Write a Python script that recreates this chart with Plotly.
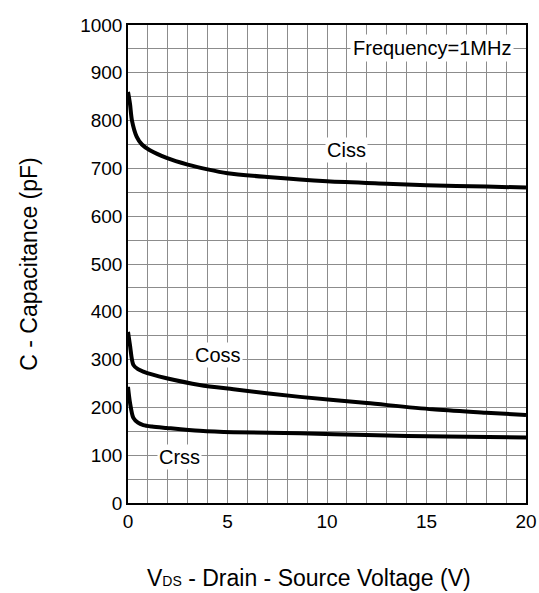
import plotly.graph_objects as go

vds_ciss = [0, 0.1, 0.2, 0.44, 0.7, 1.1, 1.94, 3, 4, 5, 7, 10, 13, 15, 18, 20]
ciss = [860, 835, 800, 766, 750, 738, 722, 708, 698, 690, 682, 673, 668, 665, 662, 660]

vds_coss = [0, 0.1, 0.27, 0.5, 0.77, 1.2, 1.94, 3.6, 5.3, 8.64, 12, 15.3, 18, 20]
coss = [358, 330, 289, 280, 275, 269, 261, 247, 238, 222, 209, 196, 189, 184]

vds_crss = [0, 0.1, 0.27, 0.5, 0.77, 1.2, 1.94, 3.6, 5.3, 8.64, 12, 16, 20]
crss = [243, 210, 178, 168, 163, 160, 157, 151, 148, 146, 142, 139, 137]

labels = ["Ciss", "Coss", "Crss"]
label_x = [11, 4.5, 2.6]
label_y = [738, 310, 96]

FONT = "Liberation Sans, Arial, sans-serif"

fig = go.Figure()
for xs, ys in [(vds_ciss, ciss), (vds_coss, coss), (vds_crss, crss)]:
    fig.add_trace(go.Scatter(x=xs, y=ys, mode="lines",
                             line=dict(color="black", width=4, shape="spline", smoothing=0.8),
                             showlegend=False, hoverinfo="skip"))

for t, x, y in zip(labels, label_x, label_y):
    fig.add_annotation(x=x, y=y, text=t, showarrow=False, bgcolor="white",
                       font=dict(family=FONT, size=20, color="black"), borderpad=1)

fig.add_annotation(x=15.3, y=952, text="Frequency=1MHz", showarrow=False, bgcolor="white",
                   font=dict(family=FONT, size=20, color="black"), borderpad=2)

# x-axis title (placed slightly left of centre, as in the reference)
fig.add_annotation(xref="paper", yref="paper", x=0.455, y=-0.157,
                   text='V<span style="font-size:14px">DS</span> - Drain - Source Voltage (V)',
                   showarrow=False, xanchor="center", yanchor="middle",
                   font=dict(family=FONT, size=23, color="black"))

fig.update_xaxes(range=[0, 20], tickvals=[0, 5, 10, 15, 20], showgrid=True,
                 gridcolor="#8c8c8c", gridwidth=1, automargin=False,
                 minor=dict(dtick=1, showgrid=True, gridcolor="#8c8c8c", gridwidth=1),
                 showline=True, linecolor="black", linewidth=1.5, mirror=True,
                 zeroline=False, ticks="", tickfont=dict(family=FONT, size=19, color="black"))
fig.update_yaxes(range=[0, 1000], dtick=100, showgrid=True,
                 gridcolor="#8c8c8c", gridwidth=1, automargin=False,
                 minor=dict(dtick=50, showgrid=True, gridcolor="#8c8c8c", gridwidth=1),
                 showline=True, linecolor="black", linewidth=1.5, mirror=True,
                 zeroline=False, ticks="", tickfont=dict(family=FONT, size=19, color="black"),
                 title=dict(text="C - Capacitance (pF)", standoff=36,
                            font=dict(family=FONT, size=23, color="black")))

fig.update_layout(width=539, height=593, plot_bgcolor="white", paper_bgcolor="white",
                  margin=dict(l=128, r=13, t=25, b=90))

fig.write_html("out.html", config={"displayModeBar": False},
               post_script="document.body.style.margin='0px';")
